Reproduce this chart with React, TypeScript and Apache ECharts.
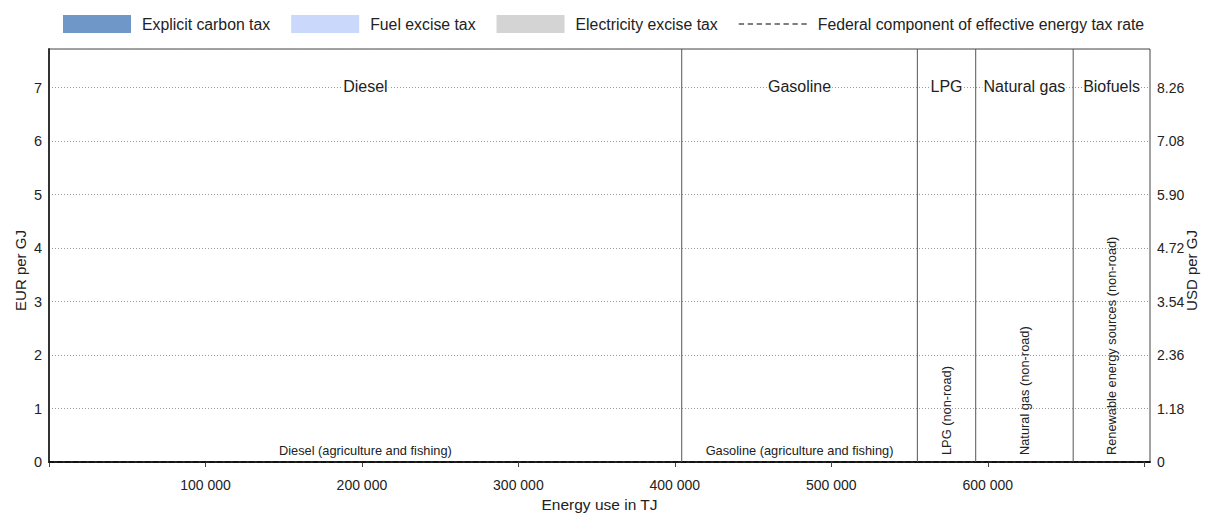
import React, { useEffect, useRef } from "react";
import * as echarts from "echarts";

// ---------- data ----------
const categories = [
  "Diesel (agriculture and fishing)",
  "Gasoline (agriculture and fishing)",
  "LPG (non-road)",
  "Natural gas (non-road)",
  "Renewable energy sources (non-road)",
];
const categoryFuel = ["Diesel", "Gasoline", "LPG", "Natural gas", "Biofuels"];
const energyUseTJ = [404400, 150600, 37300, 62300, 49100];
const explicitCarbonTax = [0, 0, 0, 0, 0];
const fuelExciseTax = [0, 0, 0, 0, 0];
const electricityExciseTax = [0, 0, 0, 0, 0];
const federalComponent = [0, 0, 0, 0, 0];
const xTickLabels = [100000, 200000, 300000, 400000, 500000, 600000];
const eurTickLabels = [0, 1, 2, 3, 4, 5, 6, 7];
const usdPerEur = 1.18;
const eurAxisMax = 7.72;
const fuelLabelLevel = 7;

const legendNames = [
  "Explicit carbon tax",
  "Fuel excise tax",
  "Electricity excise tax",
  "Federal component of effective energy tax rate",
];

// ---------- styles ----------
const FONT = "'Liberation Sans', Arial, sans-serif";
const TEXT = "#222";
const COLORS = ["#6f98c8", "#c9d8fb", "#d4d4d4", "#000000"];

const starts = energyUseTJ.map((_, i) => energyUseTJ.slice(0, i).reduce((a, b) => a + b, 0));
const ends = starts.map((s, i) => s + energyUseTJ[i]);
const totalTJ = ends[ends.length - 1];

const baseFuel = explicitCarbonTax.map(() => 0);
const baseExcise = explicitCarbonTax.map((v, i) => baseFuel[i] + v);
const baseElec = fuelExciseTax.map((v, i) => baseExcise[i] + v);

const fmtSpace = (v: number) => String(v).replace(/\B(?=(\d{3})+(?!\d))/g, " ");

function stackSeries(name: string, values: number[], bases: number[], color: string) {
  return {
    type: "custom",
    name,
    itemStyle: { color },
    encode: { x: [0, 1], y: [2, 3] },
    data: values.map((v, i) => [starts[i], ends[i], bases[i], bases[i] + v]),
    renderItem: (params: any, api: any) => {
      const p0 = api.coord([api.value(0), api.value(3)]);
      const p1 = api.coord([api.value(1), api.value(2)]);
      return {
        type: "rect",
        shape: { x: p0[0], y: p0[1], width: p1[0] - p0[0], height: p1[1] - p0[1] },
        style: { fill: color },
      };
    },
  };
}

const dashIcon =
  "path://M0,0h5v1h-5z M8.4,0h5v1h-5z M16.8,0h5v1h-5z M25.2,0h5v1h-5z M33.6,0h5v1h-5z M42,0h5v1h-5z M50.4,0h5v1h-5z M58.8,0h5v1h-5z";

export default function App() {
  const ref = useRef<HTMLDivElement>(null);

  useEffect(() => {
    document.body.style.margin = "0";
    if (!ref.current) return;
    const chart = echarts.init(ref.current, undefined, { renderer: "svg" });

    const option: any = {
      animation: false,
      backgroundColor: "#fff",
      textStyle: { fontFamily: FONT, color: TEXT },
      legend: {
        left: 63,
        top: 15,
        padding: 0,
        width: 1130,
        itemWidth: 68,
        itemHeight: 18,
        itemGap: 21,
        selectedMode: false,
        textStyle: { fontFamily: FONT, fontSize: 15.8, color: TEXT, padding: [0, 0, 0, 6] },
        data: [
          { name: legendNames[0], icon: "rect" },
          { name: legendNames[1], icon: "rect" },
          { name: legendNames[2], icon: "rect" },
          { name: legendNames[3], icon: dashIcon },
        ],
      },
      grid: {
        left: 49,
        right: 55,
        top: 49,
        bottom: 51,
        show: true,
        borderColor: "#444",
        borderWidth: 1,
        outerBoundsMode: "none",
        containLabel: false,
      },
      xAxis: {
        type: "value",
        min: 0,
        max: totalTJ,
        interval: 100000,
        name: "Energy use in TJ",
        nameLocation: "middle",
        nameGap: 34,
        nameMoveOverlap: false,
        nameTextStyle: { fontFamily: FONT, fontSize: 15.5, color: TEXT },
        axisLine: { show: true, lineStyle: { color: "#222", width: 2 } },
        axisTick: { show: true, length: 5, lineStyle: { color: "#444" } },
        axisLabel: {
          margin: 16,
          fontFamily: FONT,
          fontSize: 14,
          color: TEXT,
          showMaxLabel: false,
          formatter: (v: number) => (xTickLabels.includes(v) ? fmtSpace(v) : ""),
        },
        splitLine: { show: false },
      },
      yAxis: [
        {
          type: "value",
          min: 0,
          max: eurAxisMax,
          interval: 1,
          position: "left",
          name: "EUR per GJ",
          nameLocation: "middle",
          nameGap: 21,
          nameRotate: 90,
          nameMoveOverlap: false,
          nameTextStyle: { fontFamily: FONT, fontSize: 15, color: TEXT, padding: [0, 30, 0, 0] },
          axisLine: { show: true, lineStyle: { color: "#333", width: 2 } },
          axisTick: { show: false },
          axisLabel: {
            margin: 7,
            fontFamily: FONT,
            fontSize: 14.5,
            color: TEXT,
            showMaxLabel: false,
            formatter: (v: number) => (eurTickLabels.includes(v) ? String(v) : ""),
          },
          splitLine: { show: true, lineStyle: { color: "#999", type: [1, 2], width: 1 } },
        },
        {
          type: "value",
          min: 0,
          max: eurAxisMax,
          interval: 1,
          position: "right",
          name: "USD per GJ",
          nameLocation: "middle",
          nameGap: 34,
          nameRotate: 90,
          nameMoveOverlap: false,
          nameTextStyle: { fontFamily: FONT, fontSize: 15, color: TEXT, padding: [0, 30, 0, 0] },
          axisLine: { show: false },
          axisTick: { show: false },
          axisLabel: {
            margin: 7,
            fontFamily: FONT,
            fontSize: 14,
            color: TEXT,
            showMaxLabel: false,
            formatter: (v: number) =>
              eurTickLabels.includes(v) ? (v === 0 ? "0" : (v * usdPerEur).toFixed(2)) : "",
          },
          splitLine: { show: false },
        },
      ],
      series: [
        stackSeries(legendNames[0], explicitCarbonTax, baseFuel, COLORS[0]),
        stackSeries(legendNames[1], fuelExciseTax, baseExcise, COLORS[1]),
        stackSeries(legendNames[2], electricityExciseTax, baseElec, COLORS[2]),
        {
          type: "custom",
          name: legendNames[3],
          itemStyle: { color: COLORS[3] },
          encode: { x: [0, 1], y: 2 },
          data: federalComponent.map((v, i) => [starts[i], ends[i], v]),
          z: 5,
          renderItem: (params: any, api: any) => {
            const p0 = api.coord([api.value(0), api.value(2)]);
            const p1 = api.coord([api.value(1), api.value(2)]);
            return {
              type: "line",
              shape: { x1: p0[0], y1: p0[1], x2: p1[0], y2: p1[1] },
              style: { stroke: COLORS[3], lineWidth: 1, lineDash: [5, 3] },
            };
          },
        },
        {
          type: "custom",
          name: "annotations",
          silent: true,
          z: 6,
          encode: { x: [0, 1] },
          data: categories.map((_, i) => [starts[i], ends[i], i]),
          renderItem: (params: any, api: any) => {
            const i = api.value(2);
            const cs = params.coordSys;
            const x0 = api.coord([api.value(0), 0])[0];
            const x1 = api.coord([api.value(1), 0])[0];
            const yb = api.coord([0, 0])[1];
            const children: any[] = [];
            if (i < categories.length - 1) {
              children.push({
                type: "line",
                shape: { x1: x1, y1: yb, x2: x1, y2: cs.y },
                style: { stroke: "#555", lineWidth: 1 },
              });
            }
            const fuel = categoryFuel[i];
            if (categoryFuel.indexOf(fuel) === i) {
              let gs = Infinity;
              let ge = -Infinity;
              categoryFuel.forEach((f, k) => {
                if (f === fuel) {
                  gs = Math.min(gs, starts[k]);
                  ge = Math.max(ge, ends[k]);
                }
              });
              const gx = (api.coord([gs, 0])[0] + api.coord([ge, 0])[0]) / 2;
              const gy = api.coord([0, fuelLabelLevel])[1] - 1;
              children.push({
                type: "text",
                x: gx,
                y: gy,
                style: {
                  text: fuel,
                  fontFamily: FONT,
                  fontSize: 16,
                  fill: TEXT,
                  align: "center",
                  verticalAlign: "middle",
                  backgroundColor: "#fff",
                  padding: [0, 1],
                },
              });
            }
            const mid = (x0 + x1) / 2;
            const rotate = x1 - x0 < 200;
            children.push({
              type: "text",
              x: mid,
              y: rotate ? yb - 7 : yb - 12,
              rotation: rotate ? Math.PI / 2 : 0,
              style: {
                text: categories[i],
                fontFamily: FONT,
                fontSize: 12.8,
                fill: TEXT,
                align: rotate ? "left" : "center",
                verticalAlign: "middle",
              },
            });
            return { type: "group", children };
          },
        },
      ],
    };

    chart.setOption(option);
    return () => chart.dispose();
  }, []);

  return (
    <div
      ref={ref}
      style={{ position: "absolute", left: 0, top: 0, width: 1205, height: 513 }}
    />
  );
}
